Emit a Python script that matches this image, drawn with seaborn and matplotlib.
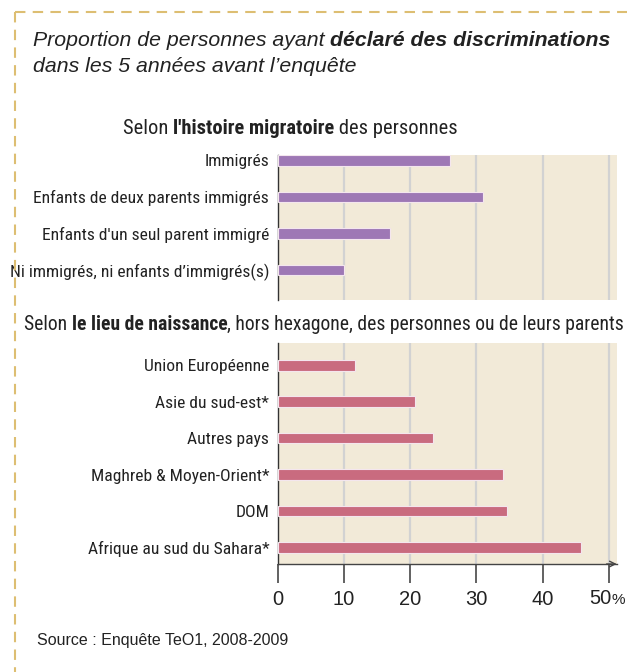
import matplotlib
matplotlib.use("Agg")
import matplotlib.pyplot as plt
from matplotlib import font_manager
from matplotlib.lines import Line2D
import seaborn as sns
import pandas as pd

# ---------------- data ----------------
migr_labels = ["Immigrés", "Enfants de deux parents immigrés",
               "Enfants d'un seul parent immigré", "Ni immigrés, ni enfants d\u2019immigrés(s)"]
migr_values = [26, 31, 17, 10]

lieu_labels = ["Union Européenne", "Asie du sud-est*", "Autres pays",
               "Maghreb & Moyen-Orient*", "DOM", "Afrique au sud du Sahara*"]
lieu_values = [11.7, 20.8, 23.5, 34.0, 34.6, 45.8]

x_ticks = [0, 10, 20, 30, 40, 50]
x_ticklabels = ["0", "10", "20", "30", "40", ""]

# ---------------- style ----------------
sns.set_theme(style="white")
names = {f.name for f in font_manager.fontManager.ttflist}
NARROW = "Liberation Sans"
for cand in ["Liberation Sans Narrow", "Roboto Condensed", "Pragati Narrow", "PT Sans Narrow",
             "Fira Sans Condensed", "Barlow Condensed"]:
    if cand in names:
        NARROW = cand
        break
REG = "Liberation Sans"
plt.rcParams["font.family"] = [REG, "DejaVu Sans"]

PURPLE = "#9E78B5"
PINK = "#C96B7F"
BG = "#F2EAD8"
GRID = "#D2D2D2"
GOLD = "#DDBE72"
TXT = "#222222"

W, H = 627, 672
fig = plt.figure(figsize=(W / 100, H / 100), dpi=100)
fig.patch.set_facecolor("white")
renderer = fig.canvas.get_renderer()

def fx(px):
    return px / W

def fy(py):
    return 1 - py / H

def width_at(pieces, size, family, style="normal"):
    tot = 0
    for s, w in pieces:
        t = fig.text(0, 0, s, fontsize=size, family=family, fontweight=w, fontstyle=style)
        tot += t.get_window_extent(renderer).width
        t.remove()
    return tot

def fit(pieces, target, family, style="normal"):
    return 10 * target / width_at(pieces, 10, family, style)

# dashed frame (top and left)
fig.add_artist(Line2D([fx(15), 1.0], [fy(12), fy(12)], transform=fig.transFigure,
                      color=GOLD, lw=1.5, ls=(0, (5, 3.5))))
fig.add_artist(Line2D([fx(15), fx(15)], [fy(12), 0.0], transform=fig.transFigure,
                      color=GOLD, lw=1.5, ls=(0, (5, 3.5))))

def rich(x_px, y_px, pieces, size, family, style="normal"):
    x = fx(x_px)
    for s, w in pieces:
        t = fig.text(x, fy(y_px), s, fontsize=size, family=family, fontweight=w,
                     fontstyle=style, color=TXT, va="center", ha="left")
        x += t.get_window_extent(renderer).width / W

LBL_FAM = [NARROW, REG]

# titles
t1 = [("Proportion de personnes ayant ", "normal"), ("déclaré des discriminations", "bold")]
tsize = fit(t1, 578, [REG], "italic")
rich(33, 41, t1, tsize, [REG, "DejaVu Sans"], style="italic")
rich(33, 67, [("dans les 5 années avant l\u2019enquête", "normal")], tsize,
     [REG, "DejaVu Sans"], style="italic")

s1 = [("Selon ", "normal"), ("l'histoire migratoire", "bold"), (" des personnes", "normal")]
s2 = [("Selon ", "normal"), ("le lieu de naissance", "bold"),
      (", hors hexagone, des personnes ou de leurs parents", "normal")]
lsize = fit([("Enfants de deux parents immigrés", "normal")], 233, LBL_FAM)
rich(123, 128, s1, fit(s1, 334, LBL_FAM), LBL_FAM)
rich(24, 324, s2, fit(s2, 598, LBL_FAM), LBL_FAM)

fig.text(fx(37), fy(641), "Source : Enquête TeO1, 2008-2009", fontsize=11.5, family=[REG],
         color=TXT, va="center", ha="left")

# axes
x0, x1 = 277.5, 616.7
ax1 = fig.add_axes([fx(x0), fy(300), (x1 - x0) / W, (300 - 155) / H])
ax2 = fig.add_axes([fx(x0), fy(564), (x1 - x0) / W, (564 - 343) / H])

df1 = pd.DataFrame({"cat": migr_labels, "val": migr_values})
df2 = pd.DataFrame({"cat": lieu_labels, "val": lieu_values})

for ax, df, col in [(ax1, df1, PURPLE), (ax2, df2, PINK)]:
    ax.set_facecolor(BG)
    for g in x_ticks[1:]:
        ax.axvline(g, color=GRID, lw=1.6, zorder=0)
    sns.barplot(data=df, x="val", y="cat", orient="h", ax=ax, color=col,
                width=0.29, saturation=1, edgecolor="#F4E6EE", linewidth=0.8, zorder=3)
    ax.set_xlim(0, (x1 - x0) / 6.63)
    ax.set_xlabel("")
    ax.set_ylabel("")
    for s in ["top", "right"]:
        ax.spines[s].set_visible(False)
    ax.spines["left"].set_color("#333333")
    ax.spines["left"].set_linewidth(1.0)
    ax.tick_params(axis="y", length=0, pad=6, labelsize=lsize, labelcolor=TXT)
    for lab in ax.get_yticklabels():
        lab.set_family(LBL_FAM)

ax1.set_ylim(3 + 30 / 36.7, -5.3 / 36.7)
ax2.set_ylim(5 + 16.7 / 36.4, -22.3 / 36.4)

ax1.spines["bottom"].set_visible(False)
ax1.set_xticks([])

ax2.spines["bottom"].set_color("#444444")
ax2.spines["bottom"].set_linewidth(1.0)
ax2.set_xticks(x_ticks)
ax2.set_xticklabels(x_ticklabels)
ax2.tick_params(axis="x", direction="out", length=13.5, width=1.3, color="#555555",
                pad=5, labelsize=14.5, labelcolor=TXT, bottom=True)
ax2.annotate("", xy=(1.0, 0), xytext=(0.97, 0), xycoords="axes fraction",
             arrowprops=dict(arrowstyle="->", color="#444444", lw=1.0,
                             shrinkA=0, shrinkB=0, mutation_scale=10),
             annotation_clip=False)

# "50%" tick label with smaller percent sign
fig.text(fx(611), fy(598), "50", fontsize=14.5, family=[REG], color=TXT, ha="right", va="center")
fig.text(fx(611), fy(600), "%", fontsize=11, family=[REG], color=TXT, ha="left", va="center")

fig.savefig("out.png", dpi=100, facecolor="white")
